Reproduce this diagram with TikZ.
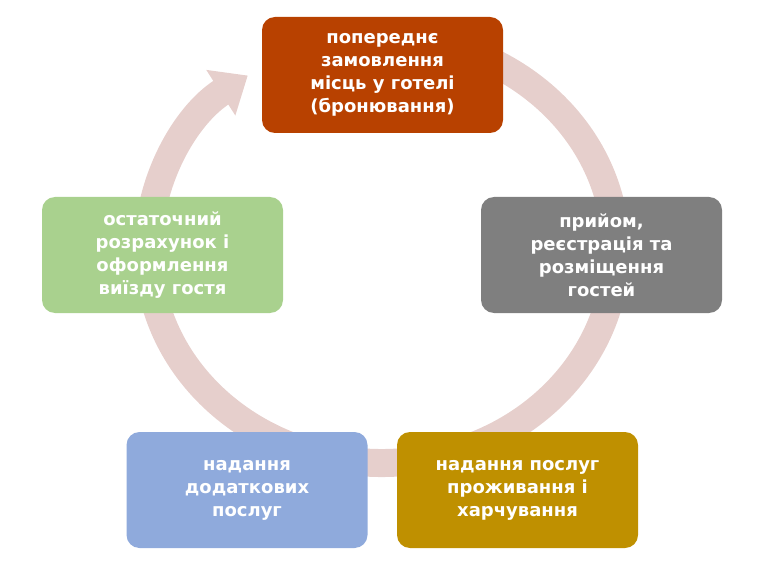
\documentclass[tikz,border=0pt]{standalone}
\usepackage{fontspec}
\setmainfont{DejaVu Sans}
\usepackage{xcolor}
\usetikzlibrary{arrows.meta}
\definecolor{bookred}{HTML}{B84100}
\definecolor{checkgray}{HTML}{7F7F7F}
\definecolor{servgold}{HTML}{BF9000}
\definecolor{extrablue}{HTML}{8FAADC}
\definecolor{leavegreen}{HTML}{A9D18E}
\definecolor{ringpink}{HTML}{E6CFCC}
\tikzset{
  stage/.style={rectangle, rounded corners=13pt, minimum width=241pt, minimum height=116pt,
    text=white, align=center, font=\fontsize{18}{23}\selectfont\bfseries},
  ring/.style={ringpink, line width=28pt}
}
\begin{document}
\begin{tikzpicture}[x=1pt, y=-1pt]
\useasboundingbox (0,0) rectangle (768,585);
% cycle band
\draw[ring] (382,250) ++(260:234 and 213) arc[start angle=260, end angle=530, x radius=234, y radius=213];
\draw[ring, -{Triangle[width=52pt,length=32pt]}] (382,250) ++(180:234 and 213) arc[start angle=180, end angle=235, x radius=234, y radius=213];
% stages
\node (booking) [stage, fill=bookred] at (382.5,75) {попереднє\\замовлення\\місць у готелі\\(бронювання)};
\node (checkin) [stage, fill=checkgray] at (601.5,255) {прийом,\\реєстрація та\\розміщення\\гостей};
\node (living) [stage, fill=servgold] at (517.5,490) {надання послуг\\проживання і\\харчування};
\node (extra) [stage, fill=extrablue] at (247,490) {надання\\додаткових\\послуг};
\node (checkout) [stage, fill=leavegreen] at (162.5,255) {остаточний\\розрахунок і\\оформлення\\виїзду гостя};
\end{tikzpicture}
\end{document}
